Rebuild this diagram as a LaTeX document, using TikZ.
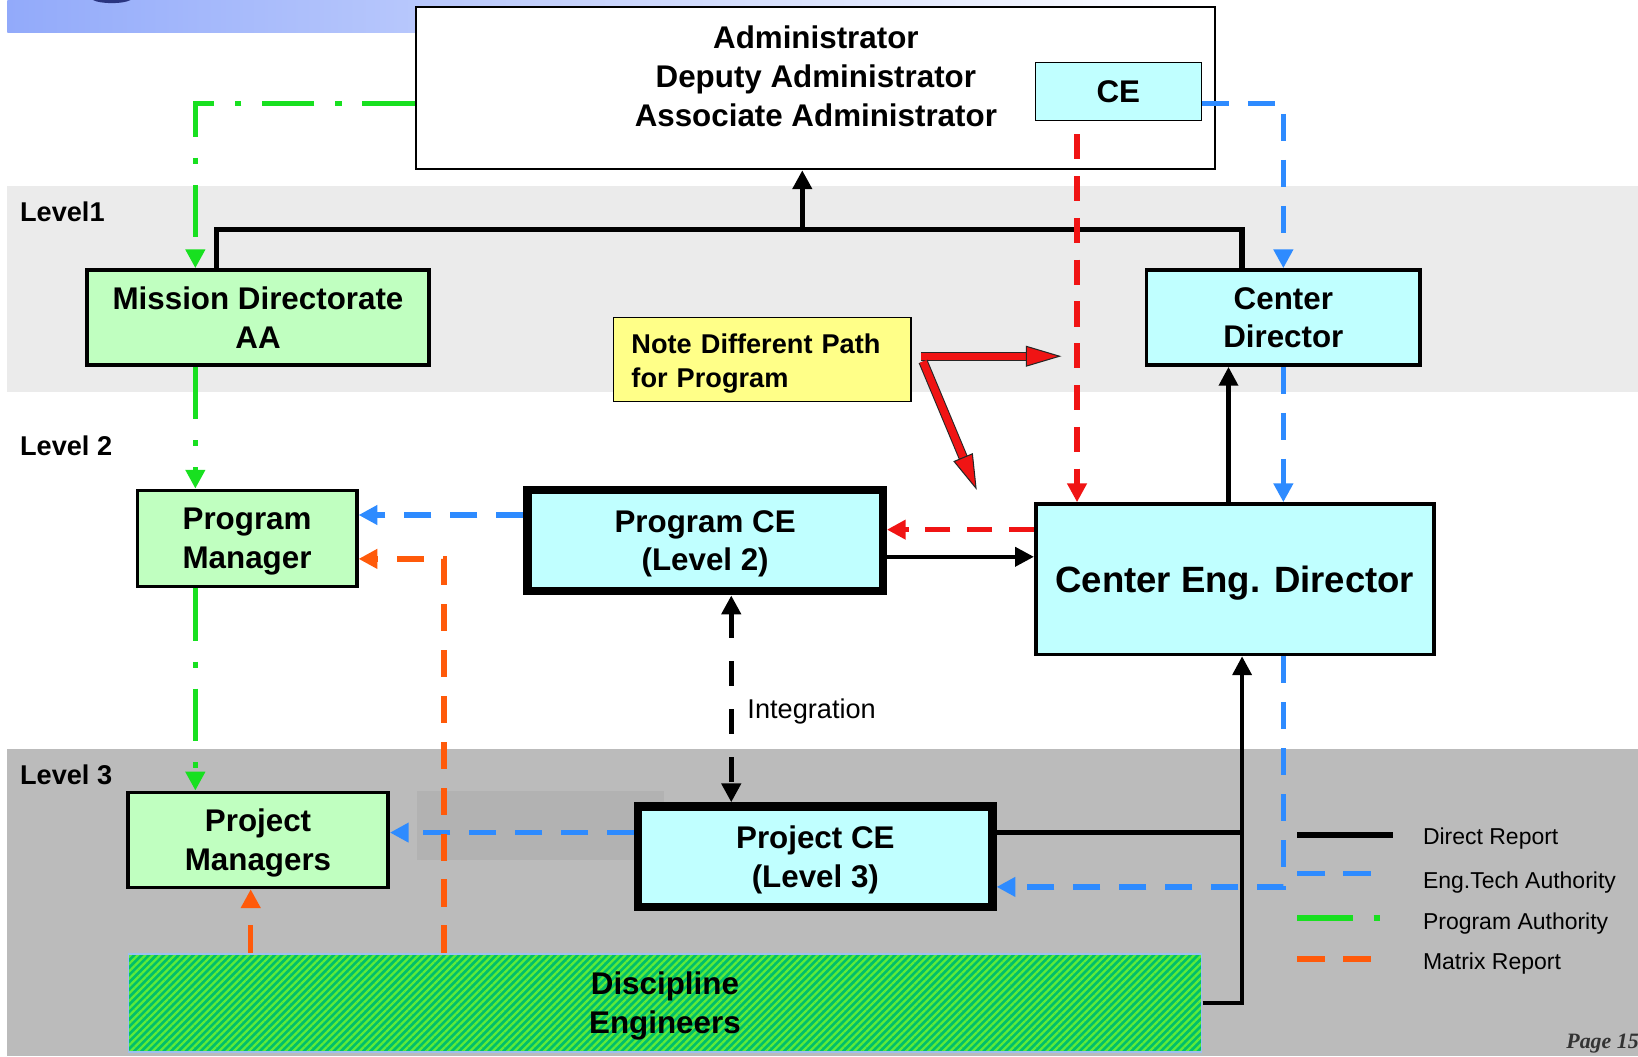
\documentclass[tikz,border=0pt]{standalone}
\usepackage{fontspec}
\setmainfont{Liberation Sans}
\newfontfamily\pagefont{Liberation Serif}
\usetikzlibrary{arrows.meta, positioning, patterns.meta}

\definecolor{boxgreen}{HTML}{C0FFC0}
\definecolor{boxcyan}{HTML}{C0FFFF}
\definecolor{noteyellow}{HTML}{FFFF88}
\definecolor{bandlight}{HTML}{EBEBEB}
\definecolor{banddark}{HTML}{BBBBBB}
\definecolor{bandshade}{HTML}{B2B2B2}
\definecolor{bannerblue}{HTML}{92AAFA}
\definecolor{logoblue}{HTML}{2A3580}
\definecolor{engblue}{HTML}{2E8BFF}
\definecolor{progreen}{HTML}{18E020}
\definecolor{mtxorange}{HTML}{FF5A0A}
\definecolor{cered}{HTML}{F01414}
\definecolor{hatchbase}{HTML}{00BF6A}
\definecolor{hatchline}{HTML}{5EEA3A}
\definecolor{hatchedge}{HTML}{9CC0F0}

\newcommand{\orgboxfont}{\fontsize{30}{37}\selectfont\bfseries}

\begin{document}
\begin{tikzpicture}[
    x=1pt, y=-1pt,
    >={Triangle[length=18pt,width=18pt]},
    greenbox/.style={draw, fill=boxgreen, line width=3.5pt, align=center,
        inner sep=0pt, text depth=0pt, font=\orgboxfont},
    cyanbox/.style={draw, fill=boxcyan, line width=3.5pt, align=center,
        inner sep=0pt, text depth=0pt, font=\orgboxfont},
    thickbox/.style={cyanbox, line width=8pt, text depth=-2pt},
    notebox/.style={draw, fill=noteyellow, line width=1.2pt, align=left,
        text width=250pt, inner sep=0pt, text depth=29.5pt,
        font=\fontsize{26}{32}\selectfont\bfseries},
    discbox/.style={draw=hatchedge, line width=1.5pt, preaction={fill=hatchbase},
        pattern={Lines[angle=45,distance=5pt,line width=2.2pt]}, pattern color=hatchline,
        align=center, inner sep=0pt, text depth=-3pt, font=\orgboxfont},
    lvl/.style={anchor=west, inner sep=2pt, font=\fontsize{26}{30}\selectfont\bfseries},
    legtext/.style={anchor=west, inner sep=1pt, font=\fontsize{22}{26}\selectfont},
    intlbl/.style={inner sep=1pt, font=\fontsize{26}{30}\selectfont},
    direct/.style={line width=5pt, black},
    directthin/.style={line width=4pt, black},
    engauth/.style={line width=5pt, engblue, dash pattern=on 26pt off 18pt},
    ceauth/.style={line width=5pt, cered, dash pattern=on 24pt off 16pt},
    progauth/.style={line width=5pt, progreen, dash pattern=on 50pt off 20pt on 6pt off 20pt},
    matrixrep/.style={line width=5pt, mtxorange, dash pattern=on 26pt off 18pt},
    integ/.style={line width=5pt, black, dash pattern=on 24pt off 22pt},
    notearrow/.style={line width=7pt, cered,
        -{Triangle[length=34pt,width=20pt,line width=1pt,color=black!85,fill=cered]},
        preaction={draw=black!85, line width=9pt, arrows=-, shorten >=22pt}},
]

% -- background and level bands --
\useasboundingbox (0,0) rectangle (1568,1011);
\fill[white] (0,0) rectangle (1568,1011);
\fill[bandlight] (7,178) rectangle (1568,375);
\fill[banddark] (7,717) rectangle (1568,1011);
\fill[bandshade] (399,757) rectangle (636,823);
\shade[left color=bannerblue, right color=white] (7,0) rectangle (1150,31);
\fill[logoblue] (89,0) .. controls (96,4) and (118,4) .. (125,0) -- cycle;

% -- boxes --
\node[draw, fill=white, line width=2pt, minimum width=765pt, minimum height=155pt] (admin) at (780.5,84.5) {};
\node[align=center, font=\orgboxfont] (admintxt) at (781,73) {Administrator\\Deputy Administrator\\Associate Administrator};
\node[cyanbox, line width=1.2pt, minimum width=159pt, minimum height=55pt] (ce) at (1070.5,87.5) {CE};

\node[greenbox, minimum width=327pt, minimum height=91pt] (md) at (247,304) {Mission Directorate\\AA};
\node[cyanbox, minimum width=262pt, minimum height=91pt] (cd) at (1228.5,304) {Center\\Director};
\node[notebox, minimum width=285pt, minimum height=80pt] (note) at (729.5,344) {Note Different Path\\for Program};

\node[greenbox, minimum width=210pt, minimum height=92pt, text depth=-2pt] (pm) at (236.5,515.5) {Program\\Manager};
\node[thickbox, minimum width=340pt, minimum height=97pt] (pce) at (675,517.5) {Program CE\\(Level 2)};
\node[cyanbox, minimum width=381pt, minimum height=144pt, font=\fontsize{35}{40}\selectfont\bfseries] (ced) at (1182,554.5) {Center Eng. Director};

\node[greenbox, minimum width=249pt, minimum height=91pt, text depth=-2pt] (pjm) at (247,804) {Project\\Managers};
\node[thickbox, minimum width=339pt, minimum height=96pt] (pjce) at (780.5,820) {Project CE\\(Level 3)};
\node[discbox, minimum width=1027pt, minimum height=94pt] (de) at (636.5,960) {Discipline\\Engineers};

% -- level labels --
\node[lvl] (lvlone) at (17,203) {Level1};
\node[lvl] (lvltwo) at (17,427) {Level 2};
\node[lvl] (lvlthree) at (17,742) {Level 3};

% -- direct report --
\coordinate (topbus) at (768,220);
\draw[direct] ([xshift=-40pt]md.north) |- (topbus) -| ([xshift=-39.5pt]cd.north);
\draw[direct, ->] (topbus) -- (topbus |- admin.south);
\path ([yshift=-15.5pt]pce.east) coordinate (pceR);
\draw[directthin, ->] (pceR) -- (pceR -| ced.west);
\draw[directthin, ->] ([xshift=-6pt]ced.north) -- ([xshift=-52.5pt]cd.south);
\path ([xshift=7pt]ced.south) coordinate (cedS);
\draw[directthin, ->] (de.east) -| (cedS);
\path ([yshift=23pt]pjce.east) coordinate (pjceR);
\draw[directthin] (pjceR) -- (pjceR -| cedS);

% -- program authority --
\draw[progauth, ->] ([yshift=-14.5pt]admin.west) -| ([xshift=-60pt]md.north);
\draw[progauth, ->] ([xshift=-60pt]md.south) -- ([xshift=-49.5pt]pm.north);
\draw[progauth, ->] ([xshift=-49.5pt]pm.south) -- ([xshift=-60pt]pjm.north);

% -- eng. tech authority --
\draw[engauth, ->] ([yshift=-11.5pt]ce.east) -| (cd.north);
\draw[engauth, ->] (cd.south) -- (cd.south |- ced.north);
\draw[engauth, ->] (cd.south |- ced.south) |- ([yshift=-29pt]pjce.east);
\path ([yshift=24.5pt]pce.west) coordinate (pceL);
\draw[engauth, ->] (pceL) -- (pceL -| pm.east);
\path ([yshift=23pt]pjce.west) coordinate (pjceL);
\draw[engauth, ->] (pjceL) -- (pjceL -| pjm.east);

% -- CE path (red) --
\path ([xshift=-39.5pt]ce.south) coordinate (ceS);
\draw[ceauth, dash phase=27pt, ->] (ceS) -- (ceS |- ced.north);
\path ([yshift=47.5pt]ced.west) coordinate (cedL);
\draw[ceauth, ->] (cedL) -- (cedL -| pce.east);

% -- matrix report --
\draw[matrixrep, ->] ([xshift=-211.5pt]de.north) |- ([yshift=-19.5pt]pm.east);
\draw[matrixrep, ->] ([xshift=-396.5pt]de.north) -- ([xshift=-7pt]pjm.south);

% -- integration --
\draw[integ, <->] ([xshift=25pt]pce.south) --
    node[intlbl, right=12pt, pos=0.56] (integlbl) {Integration}
    ([xshift=-80.5pt]pjce.north);

% -- note arrows --
\coordinate (noteR) at (1016,341);
\coordinate (noteD) at (935,469);
\draw[notearrow] ([xshift=9pt,yshift=3pt]note.east) -- (noteR);
\draw[notearrow] ([xshift=11pt,yshift=-2pt]note.east) -- (noteD);

% -- legend --
\node[legtext] (lgdirect) at (1361,803) {Direct Report};
\node[legtext] (lgeng) at (1361,845) {Eng.Tech Authority};
\node[legtext] (lgprog) at (1361,884) {Program Authority};
\node[legtext] (lgmatrix) at (1361,922) {Matrix Report};
\draw[direct, line width=6pt] ([xshift=-119pt,yshift=4pt]lgdirect.west) -- ([xshift=-28pt,yshift=4pt]lgdirect.west);
\draw[engauth] ([xshift=-119pt,yshift=9pt]lgeng.west) -- ([xshift=-46pt,yshift=9pt]lgeng.west);
\draw[progauth, line width=6pt, dash pattern=on 53pt off 20pt on 6pt off 20pt] ([xshift=-119pt,yshift=5pt]lgprog.west) -- ([xshift=-40pt,yshift=5pt]lgprog.west);
\draw[matrixrep] ([xshift=-119pt,yshift=4pt]lgmatrix.west) -- ([xshift=-46pt,yshift=4pt]lgmatrix.west);

\node[anchor=east, inner sep=0pt, text=black!80, font=\pagefont\fontsize{21}{24}\selectfont\bfseries\itshape] (page) at (1569,999) {Page 15};

\end{tikzpicture}
\end{document}
